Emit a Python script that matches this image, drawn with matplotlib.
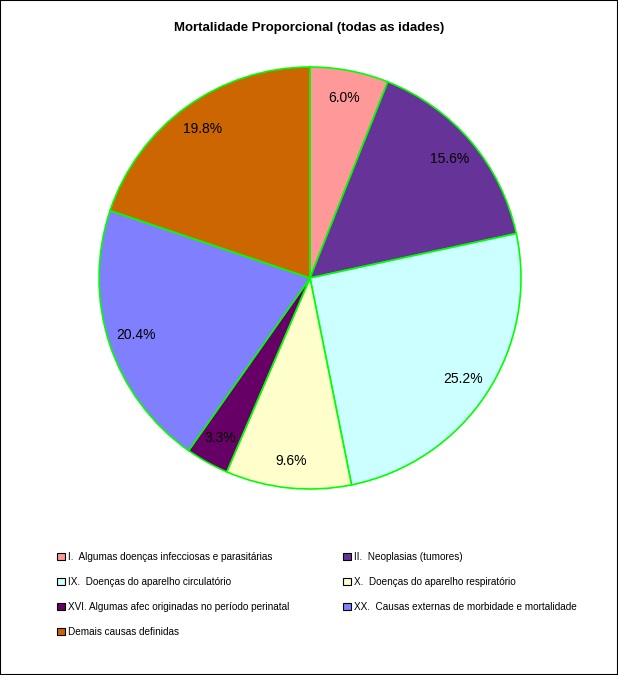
import matplotlib
matplotlib.use("Agg")
import matplotlib.pyplot as plt
from matplotlib.patches import Patch, Rectangle

plt.rcParams['font.family'] = ['Liberation Sans', 'DejaVu Sans']

categories = [
    "I.  Algumas doenças infecciosas e parasitárias",
    "II.  Neoplasias (tumores)",
    "IX.  Doenças do aparelho circulatório",
    "X.  Doenças do aparelho respiratório",
    "XVI. Algumas afec originadas no período perinatal",
    "XX.  Causas externas de morbidade e mortalidade",
    "Demais causas definidas",
]
values = [6.0, 15.6, 25.2, 9.6, 3.3, 20.4, 19.8]
colors = ["#FF9999", "#663399", "#CCFFFF", "#FFFFCC", "#660066", "#8080FF", "#CC6600"]
title = "Mortalidade Proporcional (todas as idades)"

W, H = 618, 675
fig = plt.figure(figsize=(W / 100, H / 100), dpi=100)
cx, cy, r = 310, 278, 211
ax = fig.add_axes([(cx - r) / W, (H - cy - r) / H, 2 * r / W, 2 * r / H])

wedges, texts, autotexts = ax.pie(
    values, colors=colors, startangle=90, counterclock=False,
    autopct=lambda p: f"{p:.1f}%", pctdistance=0.87,
    wedgeprops=dict(edgecolor="#00FF00", linewidth=1.2),
    textprops=dict(fontsize=10, color="black"), radius=1,
)
for t, v in zip(autotexts, values):
    t.set_text(f"{v:.1f}%")
ax.set_xlim(-1, 1)
ax.set_ylim(-1, 1)
ax.set_aspect("equal")
ax.axis("off")

fig.text(0.5, 1 - 28 / H, title, ha="center", va="center", fontsize=9.5, fontweight="bold")

handles = [Patch(facecolor=c, edgecolor="black", linewidth=0.8) for c in colors]
order = [0, 2, 4, 6, 1, 3, 5]
fig.legend([handles[i] for i in order], [categories[i] for i in order],
           ncol=2, loc="upper left", bbox_to_anchor=(52 / W, 1 - 547 / H),
           frameon=False, fontsize=7.2, handlelength=0.8, handleheight=0.8,
           handletextpad=0.3, labelspacing=1.5, columnspacing=5.4, borderpad=0)

fig.add_artist(Rectangle((0, 0), 1, 1, transform=fig.transFigure, fill=False,
                         edgecolor="black", linewidth=1.5))
fig.savefig("out.png", dpi=100, facecolor="white")
